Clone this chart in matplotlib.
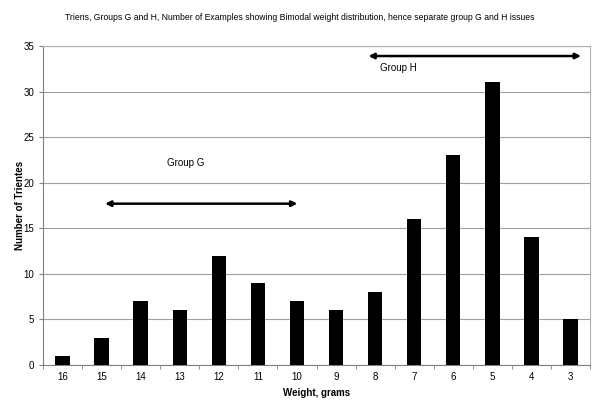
import matplotlib.pyplot as plt
import numpy as np

plt.rcParams['font.family'] = ['Liberation Sans', 'DejaVu Sans']

weights = ['16', '15', '14', '13', '12', '11', '10', '9', '8', '7', '6', '5', '4', '3']
counts = [1, 3, 7, 6, 12, 9, 7, 6, 8, 16, 23, 31, 14, 5]

fig = plt.figure(figsize=(6, 4.11), dpi=100)
ax = fig.add_axes([43 / 600, 46 / 411, 547 / 600, 319 / 411])

x = np.arange(len(weights))
ax.bar(x, counts, width=0.37, color='black', zorder=3)

ax.set_xlim(-0.5, len(weights) - 0.5)
ax.set_ylim(0, 35)
ax.set_yticks(range(0, 36, 5))
ax.set_xticks(x)
ax.set_xticklabels(weights)
ax.set_xticks(np.arange(-0.5, len(weights), 1), minor=True)
ax.tick_params(axis='x', which='major', length=0, labelsize=7, pad=5)
ax.tick_params(axis='x', which='minor', length=3, color='#808080')
ax.tick_params(axis='y', labelsize=7, length=3, color='#808080')
ax.grid(axis='y', color='#a0a0a0', linewidth=0.8, zorder=0)

for side in ['top', 'right']:
    ax.spines[side].set_color('#b0b0b0')
    ax.spines[side].set_linewidth(0.8)
for side in ['left', 'bottom']:
    ax.spines[side].set_color('#808080')
    ax.spines[side].set_linewidth(0.8)

ax.set_xlabel('Weight, grams', fontsize=7, fontweight='bold', labelpad=4)
ax.set_ylabel('Number of Trientes', fontsize=7, fontweight='bold', labelpad=-1)

fig.text(0.5, 1 - 18 / 411, 'Triens, Groups G and H, Number of Examples showing Bimodal weight distribution, '
         'hence separate group G and H issues', ha='center', va='center', fontsize=6.2)

# group arrows
arrow = dict(arrowstyle='<|-|>', color='black', lw=1.8, mutation_scale=8, shrinkA=0, shrinkB=0)
ax.annotate('', xy=(1.09, 17.7), xytext=(6.01, 17.7), arrowprops=arrow)
ax.annotate('', xy=(7.83, 33.9), xytext=(13.27, 33.9), arrowprops=arrow)
ax.text(3.14, 22.2, 'Group G', fontsize=7, ha='center', va='center')
ax.text(8.6, 32.6, 'Group H', fontsize=7, ha='center', va='center')

fig.savefig('out.png', dpi=100)
